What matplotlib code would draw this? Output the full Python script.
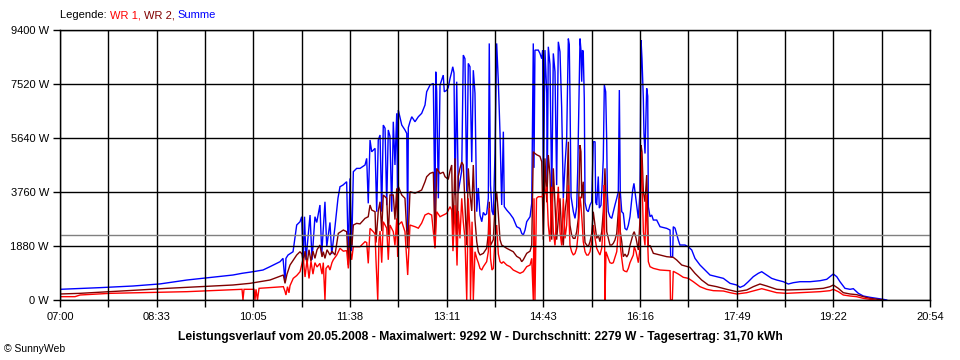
import matplotlib
matplotlib.use("Agg")
import matplotlib.pyplot as plt
import numpy as np

plt.rcParams['font.family'] = ['Liberation Sans', 'DejaVu Sans']

# ---------------- data (time in minutes after 07:00, power in W) ----------------
x_labels = ["07:00", "08:33", "10:05", "11:38", "13:11", "14:43", "16:16", "17:49", "19:22", "20:54"]
x_span_min = 834
y_ticks = [0, 1880, 3760, 5640, 7520, 9400]
avg_w = 2279

summe = [
    (0, 372), (38.3, 430), (70.0, 487), (95.9, 560), (121.7, 696), (148.6, 800), (165.8, 870), (174.5, 929),
    (185.0, 985), (194.6, 1044), (201.3, 1160), (210.9, 1333), (213.8, 1450), (215.7, 637), (216.6, 1450),
    (218.6, 1566), (223.4, 1681), (226.9, 2610), (230.1, 2725), (231.7, 2900), (233.2, 1392), (234.4, 2900),
    (235.8, 1400), (239.7, 2958), (241.6, 1400), (244.4, 2900), (246.1, 2700), (249.2, 3307), (250.9, 1600),
    (254.0, 3420), (255.7, 1850), (258.8, 2700), (260.5, 1600), (263.6, 2550), (266.5, 3550), (268.4, 3943),
    (271.3, 4003), (274.8, 4118), (276.4, 1450), (278.0, 4234), (279.6, 1700), (281.2, 4467), (284.4, 4582),
    (287.6, 4582), (292.4, 4700), (294.0, 4930), (295.5, 3365), (297.2, 5570), (298.8, 5160), (302.0, 5280),
    (303.6, 3074), (305.1, 5570), (306.8, 5744), (308.4, 3074), (309.9, 6090), (311.6, 5980), (313.2, 3300),
    (314.7, 5920), (316.3, 5700), (318.0, 3074), (319.5, 6206), (321.1, 4700), (322.8, 6500), (323.7, 3074),
    (324.3, 6614), (327.6, 6092), (330.7, 5918), (332.4, 5800), (333.3, 2378), (333.9, 6000), (335.5, 6206),
    (337.2, 6380), (340.3, 6206), (343.5, 6380), (346.7, 6498), (349.9, 6787), (351.5, 7250), (354.7, 7482),
    (357.9, 7540), (359.5, 2610), (360.2, 7946), (361.1, 7250), (362.7, 3540), (364.3, 7482), (367.4, 7830),
    (368.4, 7250), (370.7, 7300), (372.2, 7400), (373.9, 7714), (375.5, 7946), (376.5, 8120), (377.7, 7900),
    (378.7, 3655), (380.3, 7600), (381.8, 3770), (385.1, 4500), (386.6, 8527), (388.2, 8400), (389.9, 3770),
    (391.4, 8238), (393.0, 8120), (394.7, 4800), (396.2, 8000), (397.8, 7200), (399.5, 3074), (401.0, 3900),
    (402.6, 2958), (404.3, 2726), (405.8, 3050), (407.4, 2958), (409.0, 3000), (410.6, 3538), (411.5, 8933),
    (412.7, 4000), (414.1, 3100), (415.4, 2958), (417.0, 5100), (418.6, 8933), (420.2, 7600), (421.8, 5800),
    (423.4, 3307), (425.0, 5860), (425.9, 3250), (428.2, 3133), (431.4, 3000), (434.5, 2842), (437.8, 2552),
    (441.0, 2490), (442.6, 2320), (444.1, 2260), (445.8, 2436), (447.4, 2726), (450.6, 2900), (452.2, 3365),
    (453.7, 8933), (454.4, 4600), (455.3, 8700), (458.5, 8700), (460.1, 8585), (461.8, 8400), (462.7, 8700),
    (463.3, 3540), (464.9, 8700), (466.6, 7200), (467.1, 3770), (468.1, 8817), (469.7, 8200), (471.4, 3650),
    (472.9, 8585), (474.5, 7950), (476.1, 4000), (477.7, 8990), (479.3, 8640), (480.9, 6700), (482.5, 3540),
    (484.1, 4700), (485.7, 5600), (487.3, 9100), (488.2, 8900), (488.9, 7000), (489.9, 3600), (492.1, 3074),
    (493.7, 2842), (495.3, 3250), (496.3, 4500), (497.5, 7000), (498.5, 9100), (499.4, 8700), (500.1, 7600),
    (500.9, 8700), (501.6, 8643), (502.6, 7000), (503.3, 3400), (504.9, 3133), (506.4, 3074), (508.1, 3307),
    (509.7, 3420), (511.2, 5510), (512.9, 5510), (513.5, 3400), (514.5, 3307), (516.0, 4300), (517.0, 3200),
    (518.6, 3300), (519.9, 4150), (520.8, 4900), (521.8, 7484), (523.1, 7250), (524.1, 5500), (524.7, 3700),
    (525.6, 3074), (527.2, 2900), (528.9, 2842), (530.4, 3074), (532.0, 3307), (533.7, 3540), (535.2, 3770),
    (536.2, 7310), (537.1, 3770), (538.5, 3074), (540.0, 3017), (541.6, 2494), (543.3, 2436), (544.8, 2600),
    (546.4, 2900), (549.0, 3829), (550.2, 4061), (551.2, 3770), (552.8, 3300), (554.4, 2842), (556.0, 3770),
    (557.0, 9050), (557.9, 8400), (559.2, 7000), (559.8, 5800), (560.8, 5100), (562.4, 7370), (563.4, 7100),
    (564.0, 3248), (565.6, 2900), (567.2, 2958), (568.8, 2784), (572.0, 2784), (575.2, 2552), (581.6, 2494),
    (584.8, 2436), (585.4, 1508), (587.3, 1508), (587.9, 2552), (589.6, 2500), (592.7, 2088), (594.3, 1914),
    (599.1, 1914), (602.3, 1856), (605.6, 1740), (608.7, 1450), (613.5, 1218), (618.3, 1044), (623.1, 870),
    (629.5, 812), (635.9, 754), (642.3, 580), (648.7, 522), (651.9, 440), (655.7, 500), (659.8, 637),
    (664.6, 812), (669.4, 929), (672.7, 985), (677.5, 870), (682.2, 754), (687.0, 696), (693.4, 637),
    (698.2, 557), (703.0, 603), (709.4, 637), (719.0, 637), (728.6, 672), (735.0, 720), (738.1, 812),
    (741.3, 905), (744.6, 812), (747.7, 637), (752.5, 406), (757.3, 372), (760.5, 394), (765.3, 232),
    (770.1, 139), (776.5, 93), (782.9, 58), (789.2, 23), (792.5, 0),
]

wr2 = [
    (0, 209), (19.2, 232), (47.9, 290), (76.7, 350), (102.6, 406), (134.2, 464), (165.8, 522), (182.1, 580),
    (201.3, 696), (214.1, 870), (215.7, 580), (217.6, 900), (220.5, 1218), (226.9, 1566), (230.1, 1681),
    (232.0, 1600), (233.2, 1300), (234.9, 1700), (236.8, 1250), (238.7, 1750), (240.6, 1350), (242.5, 1700),
    (244.4, 1450), (246.4, 1750), (249.2, 1914), (251.2, 1500), (252.4, 1681), (254.0, 1450), (256.0, 1750),
    (258.8, 1566), (260.7, 1700), (263.6, 1566), (266.8, 2320), (271.6, 2436), (274.8, 2378), (276.4, 1220),
    (278.0, 2320), (279.9, 1900), (281.2, 2610), (284.4, 2668), (287.6, 2650), (292.4, 2842), (295.5, 2900),
    (297.2, 3307), (298.8, 3133), (302.0, 3074), (302.9, 2000), (305.1, 3100), (306.8, 3420), (308.4, 2400),
    (309.9, 3655), (313.2, 3540), (314.7, 2200), (316.3, 3655), (319.5, 3655), (321.1, 2800), (322.8, 3888),
    (323.7, 2100), (324.3, 3950), (327.6, 3655), (330.7, 3540), (333.3, 1800), (335.5, 3770), (340.3, 3720),
    (343.5, 3770), (346.7, 3830), (349.9, 4118), (351.5, 4292), (354.7, 4408), (357.9, 4450), (359.5, 1900),
    (361.1, 4582), (364.3, 4400), (367.4, 4450), (369.1, 4292), (372.2, 4200), (373.9, 4500), (375.5, 4700),
    (376.7, 2200), (378.7, 4932), (380.6, 1700), (381.8, 4300), (383.4, 4584), (385.1, 4800), (386.6, 4700),
    (389.9, 1914), (391.4, 4584), (393.0, 3700), (394.7, 3100), (396.2, 4700), (397.8, 2800), (399.5, 2030),
    (401.0, 1681), (402.6, 1566), (405.8, 1625), (409.0, 1800), (410.6, 2300), (411.5, 3420), (412.7, 1900),
    (415.4, 2100), (417.0, 3300), (418.6, 3770), (420.2, 3000), (421.8, 2100), (423.4, 1914), (428.2, 1800),
    (431.4, 1740), (434.5, 1681), (437.8, 1520), (441.0, 1450), (442.6, 1334), (444.1, 1400), (447.4, 1625),
    (450.6, 1700), (452.2, 1914), (453.7, 5162), (455.3, 5100), (457.3, 5050), (460.1, 5000), (461.8, 4815),
    (463.3, 2100), (464.9, 4930), (466.6, 3400), (468.1, 5047), (469.7, 4350), (471.4, 2100), (472.9, 4584),
    (474.5, 3300), (476.1, 2100), (477.7, 2800), (479.3, 3540), (480.9, 2300), (482.5, 1900), (484.1, 3074),
    (485.7, 3540), (487.3, 5510), (488.2, 3074), (488.9, 2600), (490.5, 2262), (492.1, 2146), (493.7, 2146),
    (495.3, 2378), (496.9, 2842), (498.5, 5394), (499.4, 5160), (500.1, 3540), (501.6, 4118), (502.6, 2378),
    (503.3, 2000), (504.9, 1914), (506.4, 1856), (508.1, 2030), (509.7, 2320), (511.2, 3074), (512.9, 2610),
    (514.5, 2146), (516.0, 2262), (517.6, 2030), (519.3, 2378), (520.8, 3074), (522.4, 4584), (523.4, 3540),
    (524.1, 2378), (525.6, 2146), (527.2, 1914), (528.9, 1914), (530.4, 1972), (532.0, 2090), (533.7, 2320),
    (535.2, 3074), (536.2, 3770), (537.1, 2378), (538.5, 2030), (540.0, 1508), (541.6, 1600), (543.3, 1500),
    (544.8, 1600), (546.4, 1900), (549.6, 2320), (550.5, 2378), (552.2, 2150), (554.4, 1740), (556.0, 2800),
    (557.0, 5394), (557.9, 5160), (559.2, 3770), (560.8, 3420), (562.4, 4350), (563.4, 3074), (564.0, 1856),
    (565.6, 1900), (568.8, 1625), (575.2, 1566), (581.6, 1508), (587.9, 1485), (591.2, 1392), (596.0, 1218),
    (603.9, 1137), (608.7, 929), (615.1, 696), (621.5, 522), (629.5, 464), (639.1, 372), (648.7, 290),
    (658.3, 348), (664.6, 464), (671.0, 557), (677.5, 487), (687.0, 372), (696.6, 348), (719.0, 372),
    (731.7, 406), (738.1, 464), (741.3, 522), (746.1, 406), (750.9, 255), (757.3, 209), (763.7, 186),
    (770.1, 116), (776.5, 58), (784.4, 23), (789.2, 0),
]

wr1 = [
    (0, 116), (14.4, 116), (19.2, 174), (47.9, 232), (121.7, 290), (172.6, 372), (174.5, 372), (175.4, 0),
    (176.4, 372), (186.0, 372), (186.9, 0), (187.9, 372), (189.3, 0), (190.8, 406), (214.1, 464), (215.7, 300),
    (216.6, 174), (218.1, 464), (219.5, 250), (220.5, 500), (223.6, 754), (226.9, 850), (230.1, 985),
    (233.2, 1450), (234.9, 800), (236.8, 1400), (238.7, 750), (240.6, 1350), (242.5, 900), (244.4, 1300),
    (246.4, 1150), (249.2, 1276), (251.2, 900), (252.4, 1300), (254.0, 0), (255.0, 1100), (257.2, 1200),
    (258.8, 1044), (260.7, 1300), (262.0, 1400), (265.3, 1566), (268.4, 1800), (271.6, 1700), (274.8, 1720),
    (276.4, 1100), (278.0, 1800), (279.6, 1400), (281.2, 1856), (284.4, 1856), (287.6, 1856), (292.4, 2030),
    (294.0, 2000), (295.5, 1276), (297.2, 2494), (300.3, 2378), (302.0, 2300), (302.9, 1400), (304.6, 0),
    (305.8, 2100), (306.8, 2400), (308.4, 1300), (309.9, 2726), (313.2, 2500), (314.7, 1400), (316.3, 2610),
    (319.5, 2378), (321.1, 1900), (322.8, 2842), (323.7, 1500), (324.3, 2610), (327.6, 2726), (330.7, 2378),
    (333.3, 870), (335.5, 2610), (340.3, 2552), (343.5, 2500), (346.7, 2678), (349.9, 2958), (353.1, 3016),
    (356.3, 2958), (359.5, 1800), (361.1, 3074), (364.3, 2900), (367.4, 2958), (370.7, 3016), (373.9, 3248),
    (375.5, 3133), (376.7, 1700), (378.7, 3300), (380.6, 1200), (381.8, 3100), (383.4, 2146), (385.1, 3540),
    (386.6, 2726), (388.2, 2146), (389.9, 0), (391.4, 3540), (393.0, 2400), (393.5, 0), (395.0, 2726),
    (396.2, 0), (397.8, 1681), (399.5, 1450), (401.0, 1300), (402.6, 1102), (404.3, 1044), (405.8, 1160),
    (409.0, 1334), (410.6, 1681), (411.5, 3200), (412.7, 1450), (414.1, 1044), (415.4, 1102), (417.0, 2146),
    (418.6, 2610), (420.2, 1600), (421.8, 1334), (423.4, 1276), (425.0, 1334), (428.2, 1218), (431.4, 1160),
    (434.5, 1044), (437.8, 985), (441.0, 929), (444.1, 985), (447.4, 1160), (450.6, 1218), (452.2, 1450),
    (453.7, 0), (454.4, 3540), (455.3, 0), (456.8, 3540), (458.5, 3596), (461.8, 3596), (463.3, 3650),
    (464.9, 3700), (466.6, 3944), (468.1, 2610), (469.7, 2030), (471.4, 3944), (472.9, 2378), (474.5, 1900),
    (476.1, 2960), (477.7, 3944), (479.3, 2378), (480.9, 1900), (482.5, 3540), (484.1, 2146), (485.7, 2610),
    (487.3, 4003), (488.2, 2610), (488.9, 1900), (490.5, 1681), (492.1, 1566), (493.7, 1620), (495.3, 1800),
    (496.9, 2378), (498.5, 3596), (499.4, 3300), (500.7, 2610), (501.6, 2030), (503.3, 1681), (504.9, 1566),
    (506.4, 1566), (508.1, 1681), (509.7, 2030), (511.2, 2610), (512.9, 2146), (514.5, 1800), (516.0, 1681),
    (517.6, 1566), (519.3, 1800), (520.8, 2610), (521.8, 4003), (522.4, 0), (523.4, 1681), (525.6, 1450),
    (527.2, 1300), (528.9, 1276), (530.4, 1300), (533.7, 1681), (535.2, 2378), (536.2, 3540), (537.1, 1900),
    (538.5, 1450), (540.0, 1044), (541.6, 1000), (543.3, 985), (544.8, 1100), (546.4, 1300), (549.6, 1566),
    (550.5, 1856), (552.2, 1681), (554.4, 1300), (556.0, 1800), (557.0, 5162), (557.9, 4350), (559.2, 2378),
    (560.8, 1900), (561.8, 3655), (563.0, 2378), (564.0, 1334), (565.6, 1160), (568.8, 1102), (575.2, 1044),
    (584.8, 1021), (585.2, 0), (587.0, 0), (587.9, 1000), (592.7, 905), (597.5, 790), (602.3, 754),
    (607.1, 637), (613.5, 464), (619.9, 372), (626.3, 325), (635.9, 313), (642.3, 255), (648.7, 209),
    (658.3, 255), (667.9, 348), (672.7, 394), (677.5, 348), (687.0, 255), (696.6, 232), (709.4, 255),
    (728.6, 290), (738.1, 325), (741.3, 372), (746.1, 290), (750.9, 174), (757.3, 139), (763.7, 116),
    (770.1, 58), (776.5, 23), (781.3, 0),
]

title = ("Leistungsverlauf vom 20.05.2008 - Maximalwert: 9292 W - Durchschnitt: 2279 W - "
         "Tagesertrag: 31,70 kWh")
legend_parts = [("Legende: ", "#000000"), ("WR 1, ", "#FF0000"), ("WR 2, ", "#800000"), ("Summe", "#0000FF")]

C_WR1 = "#FF0000"
C_WR2 = "#800000"
C_SUM = "#0000FF"

# ---------------- figure ----------------
W, H = 960, 360
fig = plt.figure(figsize=(W / 100, H / 100), dpi=100)
fig.patch.set_facecolor("white")
ax = fig.add_axes([60 / W, 60 / H, 870 / W, 270 / H])

for series, col in ((summe, C_SUM), (wr2, C_WR2), (wr1, C_WR1)):
    t, p = zip(*series)
    ax.plot(t, p, color=col, lw=1.0, zorder=2, solid_joinstyle="miter")

ax.set_xlim(0, x_span_min)
ax.set_ylim(0, y_ticks[-1])

major = np.linspace(0, x_span_min, len(x_labels))
minor = (major[:-1] + major[1:]) / 2
ax.set_xticks(major)
ax.set_xticklabels(x_labels)
ax.set_xticks(minor, minor=True)
ax.set_yticks(y_ticks)
ax.set_yticklabels([f"{v} W" for v in y_ticks])

for xv in np.concatenate([major, minor]):
    ax.axvline(xv, color="black", lw=1.0, zorder=3)
for yv in y_ticks:
    ax.axhline(yv, color="black", lw=1.0, zorder=3)
ax.axhline(avg_w, color="#808080", lw=1.0, zorder=3)

ax.tick_params(axis="both", which="both", direction="out", length=5, width=1, color="black",
               labelsize=8, pad=3)
ax.tick_params(axis="x", pad=4)
for s in ax.spines.values():
    s.set_color("black")
    s.set_linewidth(1.0)
    s.set_zorder(4)

fig.text(480 / W, 1 - 337 / H, title, ha="center", va="center", fontsize=8.75, fontweight="bold")
fig.text(4 / W, 1 - 349 / H, "\u00a9 SunnyWeb", ha="left", va="center", fontsize=7.5)

# multi-coloured legend line
fig.canvas.draw()
renderer = fig.canvas.get_renderer()
xpix = 60
for txt, col in legend_parts:
    tt = fig.text(xpix / W, 1 - 15 / H, txt, ha="left", va="center", fontsize=8, color=col)
    bb = tt.get_window_extent(renderer=renderer)
    xpix += bb.width

fig.savefig("out.png", dpi=100, facecolor="white")
